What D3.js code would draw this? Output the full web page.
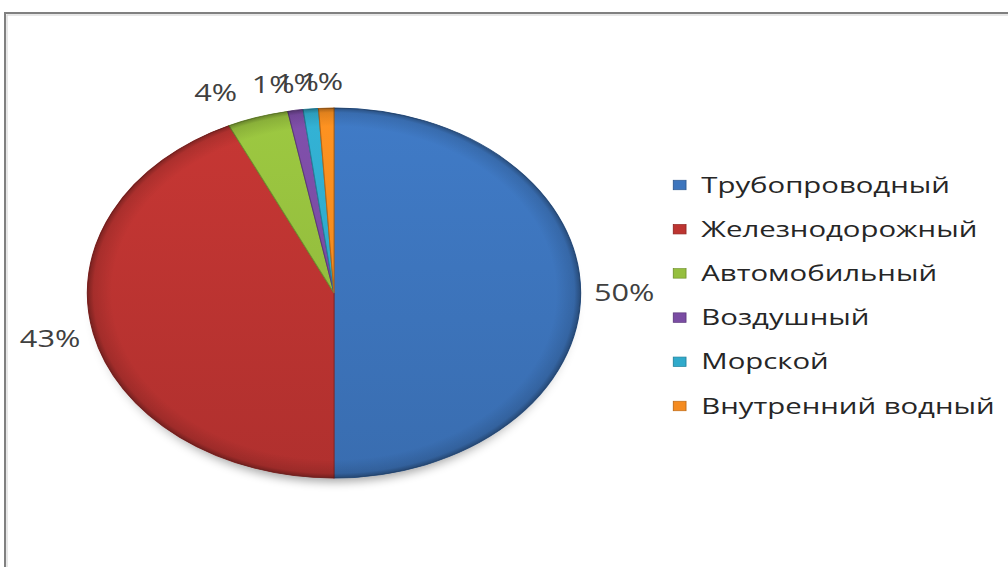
<!DOCTYPE html>
<html>
<head>
<meta charset="utf-8">
<script src="https://cdn.jsdelivr.net/npm/d3@7"></script>
<style>
  html, body { margin: 0; padding: 0; background: #fff; }
  svg { display: block; }
</style>
</head>
<body>
<svg id="chart" width="1008" height="567"></svg>
<script>
// Transport modes and their share of freight turnover, %
const categories = ["Трубопроводный", "Железнодорожный", "Автомобильный", "Воздушный", "Морской", "Внутренний водный"];
const shares = [50, 43, 4, 1, 1, 1];
const sliceColors = ["#3d75bd", "#bd3431", "#95bf3e", "#7a4ca3", "#30aacb", "#f58b1f"];

const W = 1008, H = 567;
// The slide is laid out on a 4:3 canvas and shown stretched to 16:9
const baseW = 756;
const stretch = W / baseW;

const svg = d3.select("#chart");
const defs = svg.append("defs");

// Outer frame (only the top and left edges fall inside the view)
svg.append("rect")
  .attr("x", 5).attr("y", 13).attr("width", W + 20).attr("height", H + 20)
  .attr("fill", "none").attr("stroke", "#808080").attr("stroke-width", 2);
svg.append("rect")
  .attr("x", 7).attr("y", 15).attr("width", W + 20).attr("height", H + 20)
  .attr("fill", "none").attr("stroke", "#d0d0d0").attr("stroke-width", 1);

const g = svg.append("g").attr("transform", `scale(${stretch},1)`);

const cx = 250.5, cy = 293, r = 185;
const font = "'Open Sans', 'Noto Sans', sans-serif";

// Soft drop shadow below the pie
const shadow = defs.append("filter").attr("id", "shadow")
  .attr("x", "-20%").attr("y", "-20%").attr("width", "140%").attr("height", "140%");
shadow.append("feGaussianBlur").attr("stdDeviation", 5);

const color = d3.scaleOrdinal().domain(categories).range(sliceColors);

// Vertical shading for each slice
categories.forEach((c, i) => {
  const base = d3.color(color(c));
  const lg = defs.append("linearGradient").attr("id", "grad" + i)
    .attr("gradientUnits", "userSpaceOnUse")
    .attr("x1", 0).attr("y1", -r).attr("x2", 0).attr("y2", r);
  lg.append("stop").attr("offset", "0%").attr("stop-color", base.brighter(0.15));
  lg.append("stop").attr("offset", "100%").attr("stop-color", base.darker(0.2));
});

// Bevel-like darkening at the rim
const rim = defs.append("radialGradient").attr("id", "rim")
  .attr("gradientUnits", "userSpaceOnUse").attr("cx", 0).attr("cy", 0).attr("r", r);
rim.append("stop").attr("offset", "0.90").attr("stop-color", "#000").attr("stop-opacity", 0);
rim.append("stop").attr("offset", "0.975").attr("stop-color", "#000").attr("stop-opacity", 0.12);
rim.append("stop").attr("offset", "1").attr("stop-color", "#000").attr("stop-opacity", 0.35);

const pie = d3.pie().sort(null).value(d => d.value);
const data = pie(categories.map((c, i) => ({ name: c, value: shares[i], idx: i })));
const arc = d3.arc().innerRadius(0).outerRadius(r);

const pieG = g.append("g").attr("transform", `translate(${cx},${cy})`);

pieG.append("ellipse")
  .attr("cx", 0).attr("cy", 8).attr("rx", r * 0.96).attr("ry", r * 0.98)
  .attr("fill", "#000").attr("opacity", 0.35).attr("filter", "url(#shadow)");

pieG.selectAll("path.slice")
  .data(data)
  .join("path")
  .attr("class", "slice")
  .attr("d", arc)
  .attr("fill", d => `url(#grad${d.data.idx})`)
  .attr("stroke", d => d3.color(color(d.data.name)).darker(0.8))
  .attr("stroke-width", 0.8);

pieG.append("circle").attr("r", r).attr("fill", "url(#rim)").attr("pointer-events", "none");

// Data labels outside the slice ends
const gap = 10;
const labels = g.append("g").attr("font-family", font).attr("font-size", 23).attr("fill", "#404040");
const placed = [];
data.forEach(d => {
  const a = (d.startAngle + d.endAngle) / 2;
  const s = Math.sin(a), c = Math.cos(a);
  const t = labels.append("text")
    .attr("text-anchor", "middle")
    .attr("dy", "0.35em")
    .text(d.data.value + "%");
  const bb = t.node().getBBox();
  const px = cx + (r + gap) * s;
  const py = cy - (r + gap) * c;
  const fx = Math.sign(s) * Math.min(1, Math.abs(s) * 6);
  placed.push({ t, value: d.data.value, w: bb.width, h: bb.height,
                x: px + fx * bb.width / 2, y: py - c * bb.height / 2 });
});

// Labels of larger slices step aside from the cluster of small ones
const pad = 11;
placed.forEach(p => {
  placed.forEach(q => {
    if (q === p || q.value >= p.value) return;
    const overlapY = Math.abs(p.y - q.y) < (p.h + q.h) / 2;
    const dx = p.x - q.x;
    const need = (p.w + q.w) / 2 + pad;
    if (overlapY && Math.abs(dx) < need) {
      p.x = q.x + (dx < 0 ? -need : need);
    }
  });
});
placed.forEach(p => p.t.attr("x", p.x).attr("y", p.y));

// Legend
const legendX = 505, legendY0 = 185, legendStep = 44.2, box = 9.5;
const legend = g.append("g").attr("font-family", font).attr("font-size", 22).attr("fill", "#262626");
categories.forEach((c, i) => {
  const y = legendY0 + i * legendStep;
  legend.append("rect")
    .attr("x", legendX).attr("y", y - box / 2).attr("width", box).attr("height", box)
    .attr("fill", color(c)).attr("stroke", d3.color(color(c)).darker(0.7)).attr("stroke-width", 0.7);
  legend.append("text")
    .attr("x", legendX + 21).attr("y", y).attr("dy", "0.35em")
    .text(c);
});
</script>
</body>
</html>
